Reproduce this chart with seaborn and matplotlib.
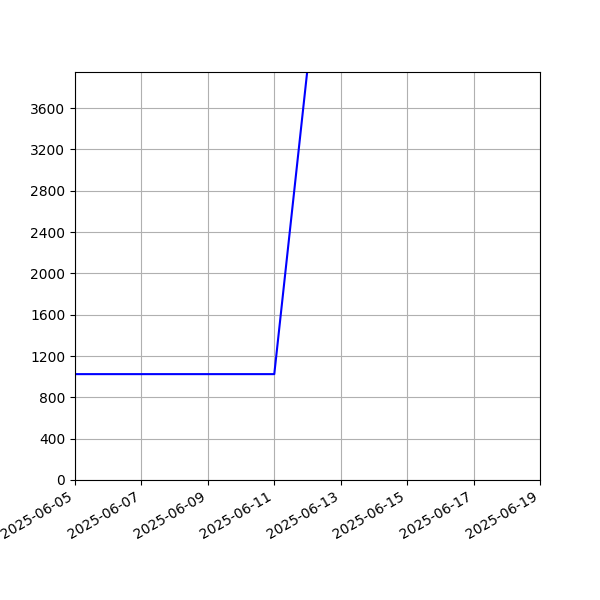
import pandas as pd
import matplotlib
matplotlib.use("Agg")
import matplotlib.pyplot as plt
import matplotlib.dates as mdates
import seaborn as sns

# data
dates = ["2025-06-05", "2025-06-06", "2025-06-07", "2025-06-08",
         "2025-06-09", "2025-06-10", "2025-06-11", "2025-06-12"]
values = [1025, 1025, 1025, 1025, 1025, 1025, 1025, 3980]

df = pd.DataFrame({"date": pd.to_datetime(dates), "value": values})

fig, ax = plt.subplots(figsize=(6, 6), dpi=100)
sns.lineplot(data=df, x="date", y="value", color="blue", linewidth=1.5, ax=ax)

ax.set_xlim(pd.Timestamp("2025-06-05"), pd.Timestamp("2025-06-19"))
ax.set_ylim(0, 3950)
ax.set_yticks(range(0, 3601, 400))
ax.xaxis.set_major_locator(mdates.DayLocator(interval=2))
ax.xaxis.set_major_formatter(mdates.DateFormatter("%Y-%m-%d"))
ax.set_xlabel("")
ax.set_ylabel("")
ax.grid(True)
fig.autofmt_xdate()

plt.savefig("out.png", dpi=100)
plt.close()
